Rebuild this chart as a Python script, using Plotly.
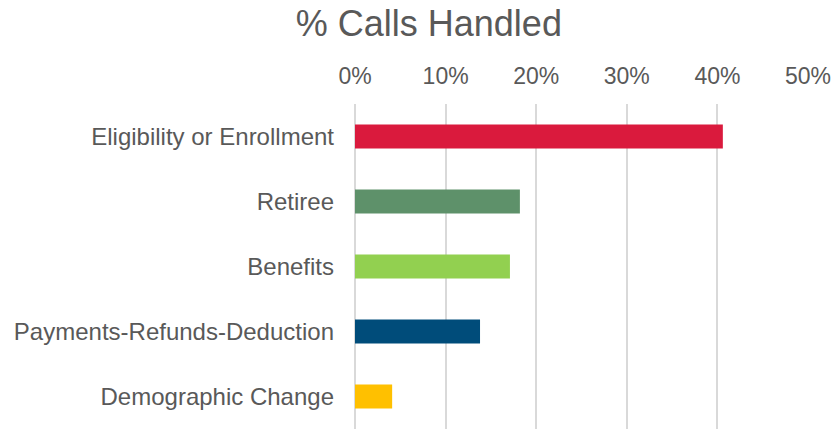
import plotly.graph_objects as go

categories = ["Eligibility or Enrollment", "Retiree", "Benefits",
              "Payments-Refunds-Deduction", "Demographic Change"]
values = [0.406, 0.182, 0.171, 0.138, 0.041]
colors = ["#DA1A3D", "#5E916A", "#92D050", "#004C7A", "#FFC000"]
tick_vals = [0, 0.1, 0.2, 0.3, 0.4, 0.5]
tick_text = ["0%", "10%", "20%", "30%", "40%", "50%"]

fig = go.Figure(go.Bar(
    x=values, y=categories, orientation="h",
    marker=dict(color=colors, line=dict(width=0)),
))

fig.update_layout(
    width=840, height=431,
    margin=dict(l=347, r=40, t=96, b=10, autoexpand=False),
    paper_bgcolor="white", plot_bgcolor="white",
    font=dict(family="Liberation Sans, Arial, sans-serif", color="#595959", size=24),
    title=dict(text="% Calls Handled", x=0.501, xanchor="center", y=0.965, yanchor="middle",
               font=dict(size=36, color="#595959")),
    bargap=0.63,
    showlegend=False,
)
fig.update_xaxes(
    side="top", range=[0, 0.5], tickvals=tick_vals, ticktext=tick_text,
    showgrid=True, gridcolor="#D9D9D9", gridwidth=2,
    zeroline=True, zerolinecolor="#D9D9D9", zerolinewidth=2,
    showline=False, ticks="", ticklabelstandoff=14, automargin=False,
    tickfont=dict(size=23, color="#595959"),
)
fig.update_yaxes(
    autorange="reversed", showgrid=False, zeroline=False, showline=False,
    ticks="", ticklabelstandoff=20, automargin=False,
    tickfont=dict(size=24, color="#595959"),
)

fig.write_html("out.html")
